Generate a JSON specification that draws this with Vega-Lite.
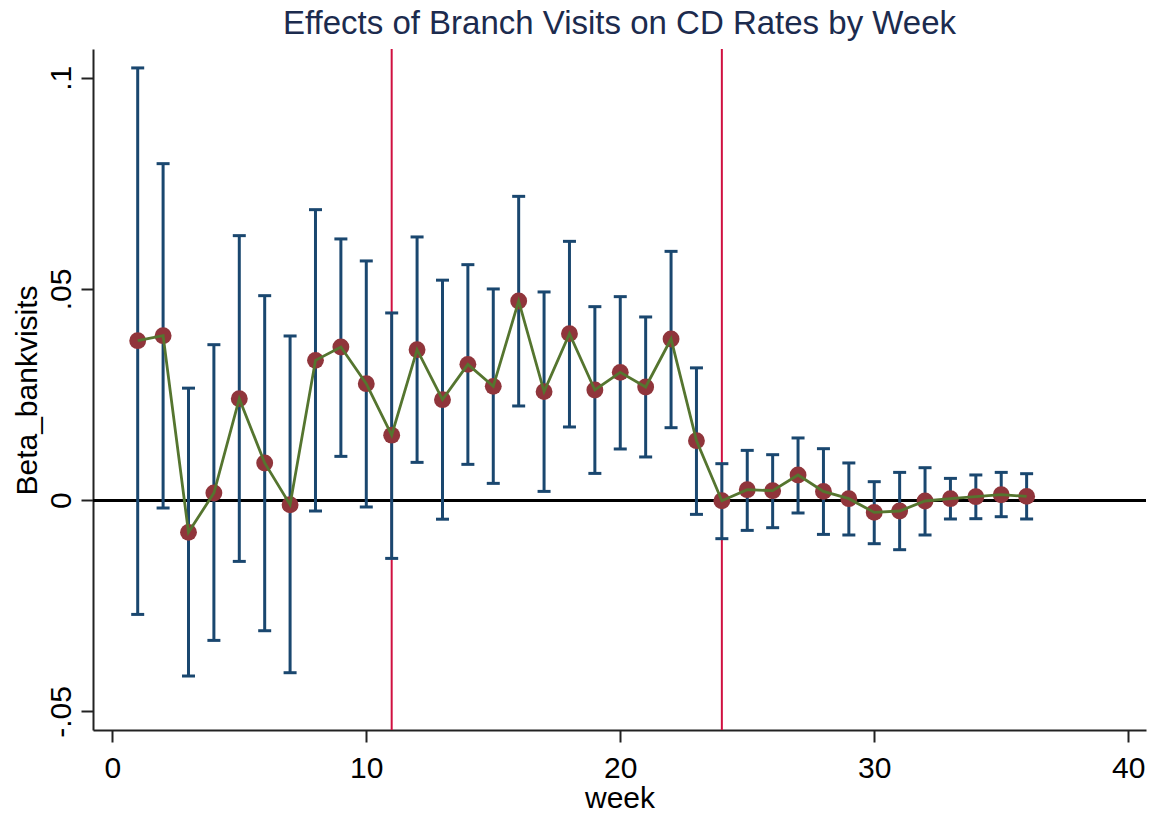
{
  "$schema": "https://vega.github.io/schema/vega-lite/v6.json",
  "autosize": "none",
  "width": 1053,
  "height": 681,
  "padding": {"left": 93, "top": 49, "right": 8, "bottom": 87},
  "background": "white",
  "config": {
    "view": {"stroke": null},
    "font": "Liberation Sans",
    "axis": {"grid": false, "domainColor": "#222222", "domainWidth": 2, "tickColor": "#222222", "tickWidth": 2, "tickSize": 12, "labelFont": "Liberation Sans", "labelFontSize": 30, "labelColor": "#000000", "titleFont": "Liberation Sans", "titleFontSize": 30, "titleFontWeight": "normal", "titleColor": "#000000"}
  },
  "title": {
    "text": "Effects of Branch Visits on CD Rates by Week",
    "font": "Liberation Sans",
    "fontSize": 33,
    "fontWeight": "normal",
    "color": "#1c2b4e",
    "anchor": "middle",
    "frame": "group",
    "baseline": "alphabetic",
    "offset": 12,
    "dy": 31
  },
  "datasets": {
    "est": [
      {"week": 1, "b": 0.03776, "lo": -0.02704, "hi": 0.10232},
      {"week": 2, "b": 0.03894, "lo": -0.00185, "hi": 0.07966},
      {"week": 3, "b": -0.00762, "lo": -0.04162, "hi": 0.02652},
      {"week": 4, "b": 0.00170, "lo": -0.03319, "hi": 0.03681},
      {"week": 5, "b": 0.02403, "lo": -0.01449, "hi": 0.06262},
      {"week": 6, "b": 0.00881, "lo": -0.03090, "hi": 0.04841},
      {"week": 7, "b": -0.00107, "lo": -0.04084, "hi": 0.03887},
      {"week": 8, "b": 0.03310, "lo": -0.00256, "hi": 0.06877},
      {"week": 9, "b": 0.03627, "lo": 0.01037, "hi": 0.06184},
      {"week": 10, "b": 0.02758, "lo": -0.00161, "hi": 0.05663},
      {"week": 11, "b": 0.01539, "lo": -0.01378, "hi": 0.04432},
      {"week": 12, "b": 0.03563, "lo": 0.00895, "hi": 0.06231},
      {"week": 13, "b": 0.02379, "lo": -0.00450, "hi": 0.05208},
      {"week": 14, "b": 0.03215, "lo": 0.00848, "hi": 0.05575},
      {"week": 15, "b": 0.02694, "lo": 0.00398, "hi": 0.05000},
      {"week": 16, "b": 0.04716, "lo": 0.02230, "hi": 0.07192},
      {"week": 17, "b": 0.02569, "lo": 0.00208, "hi": 0.04929},
      {"week": 18, "b": 0.03942, "lo": 0.01733, "hi": 0.06127},
      {"week": 19, "b": 0.02609, "lo": 0.00634, "hi": 0.04581},
      {"week": 20, "b": 0.03026, "lo": 0.01212, "hi": 0.04818},
      {"week": 21, "b": 0.02680, "lo": 0.01023, "hi": 0.04337},
      {"week": 22, "b": 0.03816, "lo": 0.01716, "hi": 0.05890},
      {"week": 23, "b": 0.01409, "lo": -0.00336, "hi": 0.03132},
      {"week": 24, "b": -0.00012, "lo": -0.00911, "hi": 0.00864},
      {"week": 25, "b": 0.00249, "lo": -0.00715, "hi": 0.01179},
      {"week": 26, "b": 0.00225, "lo": -0.00651, "hi": 0.01077},
      {"week": 27, "b": 0.00597, "lo": -0.00303, "hi": 0.01473},
      {"week": 28, "b": 0.00208, "lo": -0.00810, "hi": 0.01219},
      {"week": 29, "b": 0.00036, "lo": -0.00824, "hi": 0.00881},
      {"week": 30, "b": -0.00289, "lo": -0.01030, "hi": 0.00438},
      {"week": 31, "b": -0.00256, "lo": -0.01172, "hi": 0.00658},
      {"week": 32, "b": -0.00019, "lo": -0.00824, "hi": 0.00769},
      {"week": 33, "b": 0.00036, "lo": -0.00445, "hi": 0.00516},
      {"week": 34, "b": 0.00083, "lo": -0.00438, "hi": 0.00597},
      {"week": 35, "b": 0.00130, "lo": -0.00391, "hi": 0.00658},
      {"week": 36, "b": 0.00090, "lo": -0.00445, "hi": 0.00627}
    ],
    "refs": [{"ref": 11}, {"ref": 24}]
  },
  "data": {"name": "est"},
  "encoding": {
    "x": {
      "field": "week",
      "type": "quantitative",
      "scale": {"domain": [-0.76, 40.7], "nice": false, "zero": false},
      "axis": {"title": "week", "values": [0, 10, 20, 30, 40], "labelBaseline": "alphabetic", "labelPadding": 35, "titleBaseline": "alphabetic", "titleY": 77}
    }
  },
  "layer": [
    {
      "mark": {"type": "rule", "color": "#000000", "strokeWidth": 2},
      "encoding": {"y": {"datum": 0, "type": "quantitative"}, "x": {"value": 0}, "x2": {"value": 1053}}
    },
    {
      "data": {"name": "refs"},
      "mark": {"type": "rule", "color": "#d01040", "strokeWidth": 2},
      "encoding": {"x": {"field": "ref", "type": "quantitative"}}
    },
    {
      "mark": {"type": "rule", "color": "#1a476f", "strokeWidth": 3},
      "encoding": {
        "y": {
          "field": "lo",
          "type": "quantitative",
          "scale": {"domain": [-0.0544, 0.1068], "nice": false, "zero": false},
          "axis": {"title": "Beta_bankvisits", "values": [-0.05, 0, 0.05, 0.1], "labelExpr": "replace(toString(datum.value), '0.', '.')", "labelAngle": -90, "labelAlign": "center", "labelBaseline": "alphabetic", "labelPadding": 11, "titleAngle": -90, "titleAlign": "center", "titleBaseline": "alphabetic", "titleX": -57, "titleY": 341}
        },
        "y2": {"field": "hi"}
      }
    },
    {
      "mark": {"type": "tick", "orient": "horizontal", "color": "#1a476f", "size": 13, "thickness": 3, "opacity": 1},
      "encoding": {"y": {"field": "hi", "type": "quantitative"}}
    },
    {
      "mark": {"type": "tick", "orient": "horizontal", "color": "#1a476f", "size": 13, "thickness": 3, "opacity": 1},
      "encoding": {"y": {"field": "lo", "type": "quantitative"}}
    },
    {
      "mark": {"type": "circle", "color": "#90353b", "size": 285, "opacity": 1},
      "encoding": {"y": {"field": "b", "type": "quantitative"}}
    },
    {
      "mark": {"type": "line", "color": "#55752f", "strokeWidth": 2.8},
      "encoding": {"y": {"field": "b", "type": "quantitative"}}
    }
  ]
}
